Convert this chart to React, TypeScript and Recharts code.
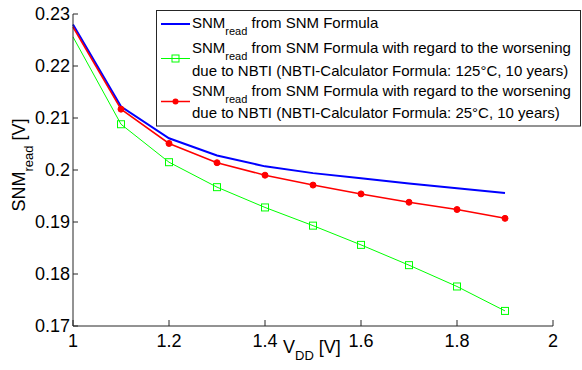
import { LineChart, Line, XAxis, YAxis } from "recharts";

// V_DD sweep (V)
const vdd = [1, 1.1, 1.2, 1.3, 1.4, 1.5, 1.6, 1.7, 1.8, 1.9];
// SNM_read (V)
const snmFormula = [0.228, 0.2122, 0.2061, 0.2028, 0.2007, 0.1994, 0.1984, 0.1974, 0.1965, 0.1956];
const snmNbti125 = [0.2256, 0.2088, 0.2015, 0.1967, 0.1928, 0.1893, 0.1856, 0.1817, 0.1776, 0.1729];
const snmNbti25 = [0.2275, 0.2117, 0.2051, 0.2014, 0.199, 0.1971, 0.1954, 0.1938, 0.1924, 0.1907];

const xTicks = [1, 1.2, 1.4, 1.6, 1.8, 2];
const yTicks = [0.17, 0.18, 0.19, 0.2, 0.21, 0.22, 0.23];

const BLUE = "#0000ff";
const GREEN = "#00ff00";
const RED = "#ff0000";
const AXIS = "#262626";
const FONT = "Arial, 'Liberation Sans', sans-serif";

const data = vdd.map((v, i) => ({
  vdd: v,
  formula: snmFormula[i],
  nbti125: snmNbti125[i],
  nbti25: snmNbti25[i],
}));

const fmt = (v: number) => String(Number(v.toFixed(2)));

function XTick(props: any) {
  const { x, y, payload } = props;
  return (
    <g>
      <line x1={x} x2={x} y1={y} y2={y - 6} stroke={AXIS} />
      <text x={x} y={y + 21} textAnchor="middle" fontSize={18} fontFamily={FONT} fill="#000">
        {fmt(payload.value)}
      </text>
    </g>
  );
}

function YTick(props: any) {
  const { x, y, payload } = props;
  return (
    <g>
      <line x1={x} x2={x + 5} y1={y} y2={y} stroke={AXIS} />
      <text x={x - 3} y={y} dy="0.36em" textAnchor="end" fontSize={18} fontFamily={FONT} fill="#000">
        {fmt(payload.value)}
      </text>
    </g>
  );
}

// markers sitting on the y axis (x = 1) are clipped away in the original
function SquareDot(props: any) {
  const { cx, cy, index } = props;
  if (index === 0) return <g key={`sq-${index}`} />;
  return <rect key={`sq-${index}`} x={cx - 3.5} y={cy - 3.5} width={7} height={7} fill="none" stroke={GREEN} />;
}

function CircleDot(props: any) {
  const { cx, cy, index } = props;
  if (index === 0) return <g key={`ci-${index}`} />;
  return <circle key={`ci-${index}`} cx={cx} cy={cy} r={3} fill={RED} stroke={RED} />;
}

function Legend() {
  return (
    <svg width={582} height={370} style={{ position: "absolute", left: 0, top: 0, pointerEvents: "none" }}>
      <g fontFamily={FONT} fill="#000">
        <rect x={156.5} y={10.5} width={424} height={115.5} fill="#fff" stroke={AXIS} />
        <line x1={161} x2={190} y1={24} y2={24} stroke={BLUE} strokeWidth={2} />
        <text x={192} y={28} fontSize={15}>
          SNM<tspan fontSize={11} dy={7}>read</tspan>
          <tspan dy={-7}> from SNM Formula</tspan>
        </text>

        <line x1={161} x2={190} y1={58.5} y2={58.5} stroke={GREEN} />
        <rect x={172} y={55} width={7} height={7} fill="none" stroke={GREEN} />
        <text x={192} y={53} fontSize={15}>
          SNM<tspan fontSize={11} dy={7}>read</tspan>
          <tspan dy={-7}> from SNM Formula with regard to the worsening</tspan>
        </text>
        <text x={192} y={76} fontSize={15}>
          due to NBTI (NBTI-Calculator Formula: 125°C, 10 years)
        </text>

        <line x1={161} x2={190} y1={101.5} y2={101.5} stroke={RED} strokeWidth={1.5} />
        <circle cx={175.5} cy={101.5} r={3} fill={RED} />
        <text x={192} y={96} fontSize={15}>
          SNM<tspan fontSize={11} dy={7}>read</tspan>
          <tspan dy={-7}> from SNM Formula with regard to the worsening</tspan>
        </text>
        <text x={192} y={118} fontSize={15}>
          due to NBTI (NBTI-Calculator Formula: 25°C, 10 years)
        </text>
      </g>
    </svg>
  );
}

export default function App() {
  return (
    <div style={{ position: "fixed", left: 0, top: 0, width: 582, height: 370, background: "#fff" }}>
      <LineChart width={582} height={370} data={data} margin={{ top: 14, right: 29, left: 0, bottom: 0 }}>
        <XAxis
          dataKey="vdd"
          type="number"
          domain={[1, 2]}
          ticks={xTicks}
          interval={0}
          height={44}
          tickSize={0}
          tickMargin={0}
          axisLine={{ stroke: AXIS }}
          tick={<XTick />}
          label={{
            content: () => (
              <text x={283} y={353} fontSize={18} fontFamily={FONT} fill="#000">
                V<tspan fontSize={13} dy={7}>DD</tspan>
                <tspan dy={-7}> [V]</tspan>
              </text>
            ),
          }}
        />
        <YAxis
          type="number"
          domain={[0.17, 0.23]}
          ticks={yTicks}
          interval={0}
          width={73}
          tickSize={0}
          tickMargin={0}
          axisLine={{ stroke: AXIS }}
          tick={<YTick />}
          label={{
            content: () => (
              <text
                x={25}
                y={165}
                textAnchor="middle"
                transform="rotate(-90, 25, 165)"
                fontSize={18}
                fontFamily={FONT}
                fill="#000"
              >
                SNM<tspan fontSize={13} dy={8}>read</tspan>
                <tspan dy={-8}> [V]</tspan>
              </text>
            ),
          }}
        />
        <Line dataKey="formula" stroke={BLUE} strokeWidth={2} dot={false} isAnimationActive={false} />
        <Line dataKey="nbti125" stroke={GREEN} strokeWidth={1} dot={<SquareDot />} isAnimationActive={false} />
        <Line dataKey="nbti25" stroke={RED} strokeWidth={1.5} dot={<CircleDot />} isAnimationActive={false} />
      </LineChart>
      <Legend />
    </div>
  );
}
